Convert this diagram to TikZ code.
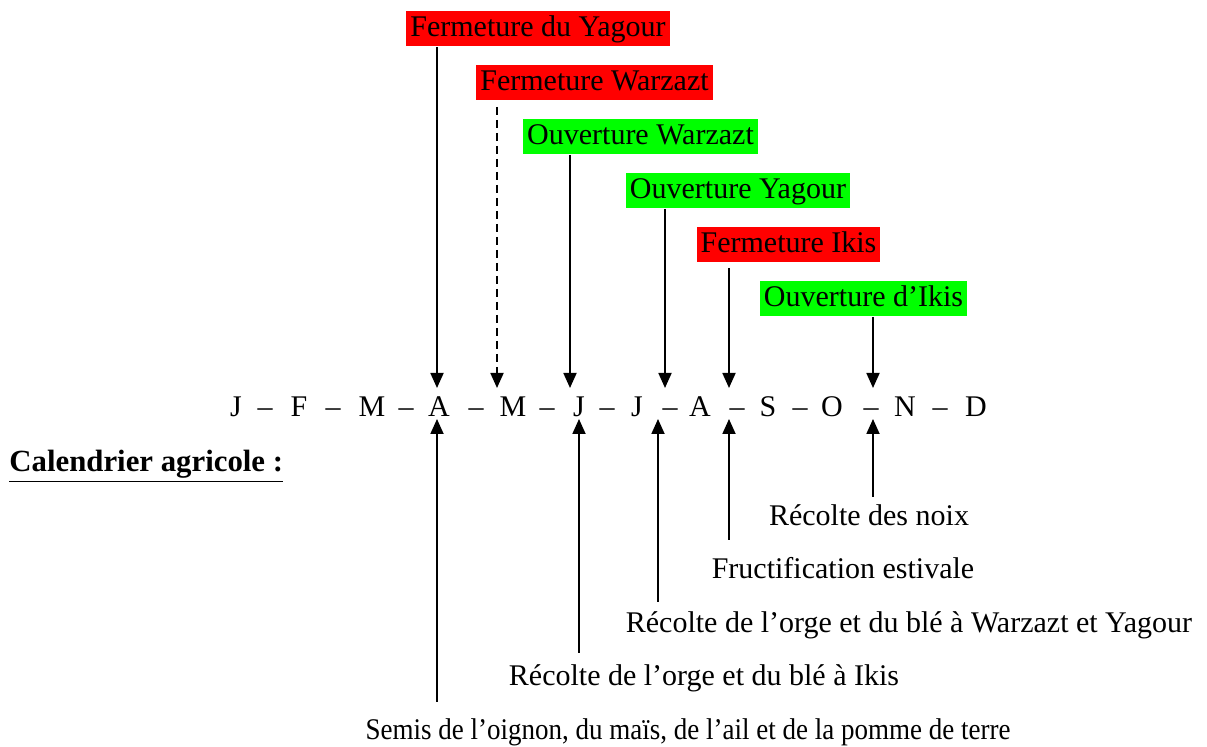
\documentclass[tikz,border=0pt]{standalone}
\usepackage{fontspec}
\setmainfont{Liberation Serif}
\usepackage{tikz}
\usetikzlibrary{arrows.meta,positioning}

\begin{document}
\begin{tikzpicture}[x=0.5pt,y=-0.5pt,
		lbl/.style={font=\fontsize{15}{18}\selectfont, inner sep=0pt, text height=11pt, text depth=3.5pt},
		redbox/.style={lbl, fill=red, inner xsep=2pt, minimum height=17.5pt},
		greenbox/.style={lbl, fill=green, inner xsep=2pt, minimum height=17.5pt},
		arr/.style={line width=0.9pt, -{Triangle[length=7.5pt,width=6.5pt]}}]
	\useasboundingbox (0,0) rectangle (1207,747);
	
	% Months
	\foreach \t/\x [count=\i] in {J/236,–/265,F/299,–/333,M/372,–/406,A/439,–/476,M/513,–/547,J/579,–/607,J/637,–/670,A/700,–/737,S/768,–/800,O/832,–/871,N/905,–/940,D/976}
		\node[font=\fontsize{15}{18}\selectfont, anchor=base, inner sep=0pt] (m\i) at (\x,417) {\t};
	
	% Arrow tips above and below the months
	\coordinate (dA) at (437,388);
	\coordinate (dM) at (497,388);
	\coordinate (dJ) at (570,388);
	\coordinate (dJA) at (665,388);
	\coordinate (dAS) at (729,388);
	\coordinate (dON) at (873,388);
	\coordinate (uA) at (437,419);
	\coordinate (uJ) at (579,419);
	\coordinate (uJA) at (658,419);
	\coordinate (uAS) at (729,419);
	\coordinate (uON) at (873,419);
	
	% Openings and closings
	\node[redbox] (fy) at (538,29) {Fermeture du Yagour};
	\node[redbox] (fw) at (594.5,83) {Fermeture Warzazt};
	\node[greenbox] (ow) at (640.5,137) {Ouverture Warzazt};
	\node[greenbox] (oy) at (738,191) {Ouverture Yagour};
	\node[redbox] (fi) at (788.5,245) {Fermeture Ikis};
	\node[greenbox] (oi) at (863.5,299) {Ouverture d’Ikis};
	
	\draw[arr] (fy.south -| dA) -- (dA);
	\draw[arr, dashed, dash pattern=on 4pt off 2.5pt, shorten <=3pt] (fw.south -| dM) -- (dM);
	\draw[arr] (ow.south -| dJ) -- (dJ);
	\draw[arr] (oy.south -| dJA) -- (dJA);
	\draw[arr, shorten <=2.5pt] (fi.south -| dAS) -- (dAS);
	\draw[arr] (oi.south -| dON) -- (dON);
	
	% Agricultural calendar
	\node[anchor=base west, inner sep=0pt, font=\fontsize{15.4}{18}\selectfont\bfseries] (cal) at (9,472) {\underline{Calendrier agricole :}};
	
	\node[lbl, anchor=base] (noix) at (869,526) {Récolte des noix};
	\node[lbl, anchor=base] (fruct) at (843,579) {Fructification estivale};
	\node[lbl, anchor=base] (rwy) at (909,633) {Récolte de l’orge et du blé à Warzazt et Yagour};
	\node[lbl, anchor=base] (rik) at (704,686) {Récolte de l’orge et du blé à Ikis};
	\node[lbl, anchor=base] (semis) at (688,740) {\scalebox{0.9}[1]{Semis de l’oignon, du maïs, de l’ail et de la pomme de terre}};
	
	\draw[arr, shorten <=3.5pt] (noix.north -| uON) -- (uON);
	\draw[arr, shorten <=8.5pt] (fruct.north -| uAS) -- (uAS);
	\draw[arr, shorten <=4.5pt] (rwy.north -| uJA) -- (uJA);
	\draw[arr, shorten <=5.5pt] (rik.north -| uJ) -- (uJ);
	\draw[arr, shorten <=8pt] (semis.north -| uA) -- (uA);
\end{tikzpicture}
\end{document}
